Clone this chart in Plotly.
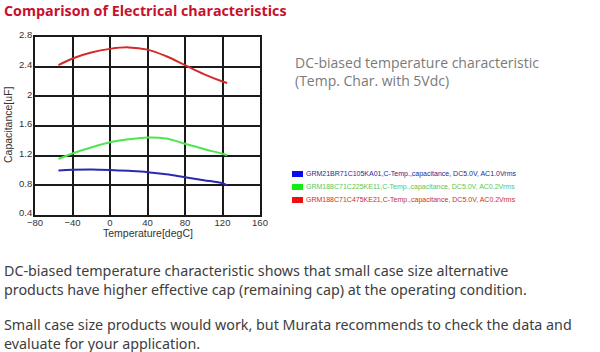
import plotly.graph_objects as go

temps = [-55, -40, -20, 0, 20, 40, 60, 80, 100, 120, 125]
red_vals = [2.42, 2.51, 2.59, 2.64, 2.66, 2.63, 2.54, 2.42, 2.30, 2.20, 2.18]
green_vals = [1.155, 1.23, 1.31, 1.38, 1.42, 1.445, 1.43, 1.36, 1.29, 1.225, 1.205]
blue_vals = [1.00, 1.01, 1.015, 1.008, 0.995, 0.978, 0.95, 0.91, 0.87, 0.828, 0.80]

series_names = [
    "GRM21BR71C105KA01,C-Temp.,capacitance, DC5.0V, AC1.0Vrms",
    "GRM188C71C225KE11,C-Temp.,capacitance, DC5.0V, AC0.2Vrms",
    "GRM188C71C475KE21,C-Temp.,capacitance, DC5.0V, AC0.2Vrms",
]
line_colors = ["#2a2ab0", "#4ee64e", "#d42a2a"]
box_colors = ["#0a0aee", "#10ee10", "#ee1010"]
text_colors = ["#2a2a8c", "#58c858", "#c83030"]
series_vals = [blue_vals, green_vals, red_vals]

title_text = "Comparison of Electrical characteristics"
side_text = "DC-biased temperature characteristic<br>(Temp. Char. with 5Vdc)"
body_paragraphs = [
    "DC-biased temperature characteristic shows that small case size alternative<br>"
    "products have higher effective cap (remaining cap) at the operating condition.",
    "Small case size products would work, but Murata recommends to check the data and<br>"
    "evaluate for your application.",
]

W, H = 600, 352
L, R, T, B = 35, 260, 37, 215

fig = go.Figure()
for name, vals, col in zip(series_names, series_vals, line_colors):
    fig.add_trace(go.Scatter(x=temps, y=vals, mode="lines", name=name,
                             line=dict(color=col, width=2, shape="spline"),
                             showlegend=False))

axis_common = dict(showgrid=True, gridcolor="#1a1a1a", gridwidth=1.6,
                   showline=True, linecolor="#1a1a1a", linewidth=1.6, mirror=True,
                   zeroline=False, ticks="", tickfont=dict(family="Arial", size=9.5, color="#333"))
fig.update_xaxes(range=[-80, 160], dtick=40, tick0=-80, ticklabelstandoff=-2, **axis_common)
fig.update_yaxes(range=[0.4, 2.8], dtick=0.4, tick0=0.4, ticklabelstandoff=-1,
                 ticklabelshift=-2, **axis_common)

fig.update_layout(
    width=W, height=H,
    margin=dict(l=L, r=W - R, t=T, b=H - B),
    paper_bgcolor="white", plot_bgcolor="white",
)

# convert page pixels to paper coordinates (paper = plot area)
def px(x):
    return (x - L) / (R - L)

def py(y):
    return (B - y) / (B - T)

ann = []
ann.append(dict(text="<b>" + title_text + "</b>", x=px(2), y=py(10.5),
                xanchor="left", yanchor="middle", showarrow=False,
                font=dict(family="Open Sans", size=14.3, color="#c8102e")))
ann.append(dict(text="Capacitance[uF]", x=px(8), y=py(125), textangle=-90,
                xanchor="center", yanchor="middle", showarrow=False,
                font=dict(family="Arial", size=10.5, color="#333")))
ann.append(dict(text="Temperature[degC]", x=px(148), y=py(233),
                xanchor="center", yanchor="middle", showarrow=False,
                font=dict(family="Arial", size=10.5, color="#333")))
ann.append(dict(text=side_text, x=px(293), y=py(71.5), xanchor="left", yanchor="middle",
                align="left", showarrow=False,
                font=dict(family="Open Sans", size=14, color="#7a7a7a")))
for t, yc in zip(body_paragraphs, [279.5, 334]):
    ann.append(dict(text=t, x=px(2), y=py(yc), xanchor="left", yanchor="middle",
                    align="left", showarrow=False,
                    font=dict(family="Noto Sans", size=14.3, color="#3d3d3d")))

shapes = []
rows = [174, 187, 200]
for name, bc, tc, yy in zip(series_names, box_colors, text_colors, rows):
    shapes.append(dict(type="rect", xref="paper", yref="paper",
                       x0=px(292), x1=px(303), y0=py(yy - 3), y1=py(yy + 3),
                       fillcolor=bc, line=dict(width=0)))
    ann.append(dict(text=name, x=px(303.5), y=py(yy), xanchor="left", yanchor="middle",
                    showarrow=False, font=dict(family="Arial", size=7, color=tc)))

for a in ann:
    a.setdefault("xref", "paper")
    a.setdefault("yref", "paper")
fig.update_layout(annotations=ann, shapes=shapes)

fig.write_html("out.html")
